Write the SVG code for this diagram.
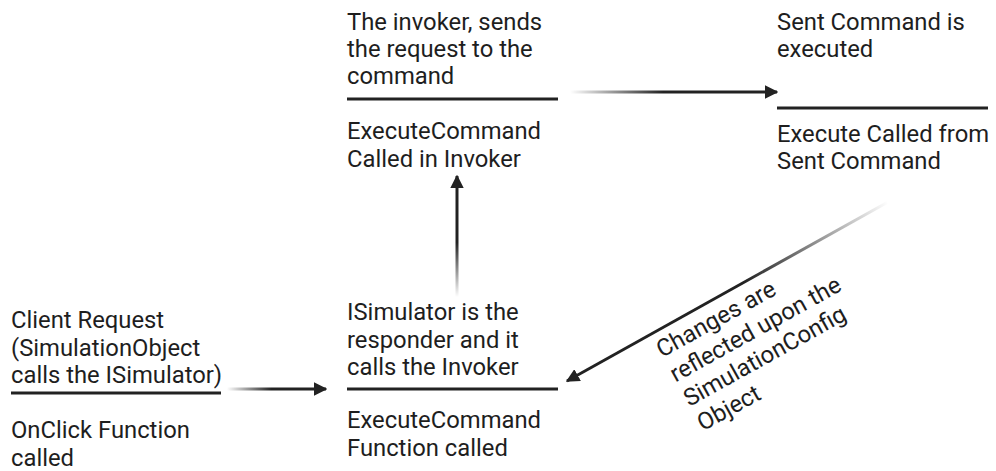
<svg xmlns="http://www.w3.org/2000/svg" width="996" height="471" viewBox="0 0 996 471">
<style>
.t{font-family:Roboto,"Liberation Sans",sans-serif;font-size:23.8px;fill:#1e1e1e}
.sep{stroke:#222;stroke-width:3}
.c{fill:none;stroke-width:3}
</style>
<defs>
<marker id="ah" viewBox="0 0 10 10" refX="9" refY="5" markerWidth="4.5" markerHeight="4.5" orient="auto" markerUnits="strokeWidth">
<path d="M0,0 L10,5 L0,10 z" fill="#222"/>
</marker>
<linearGradient id="g1" gradientUnits="userSpaceOnUse" x1="227" y1="389" x2="326" y2="389"><stop offset="0" stop-color="#222" stop-opacity="0"/><stop offset="0.45" stop-color="#222"/></linearGradient>
<linearGradient id="g2" gradientUnits="userSpaceOnUse" x1="457" y1="297" x2="457" y2="176"><stop offset="0" stop-color="#222" stop-opacity="0"/><stop offset="0.45" stop-color="#222"/></linearGradient>
<linearGradient id="g3" gradientUnits="userSpaceOnUse" x1="570" y1="92" x2="777" y2="92"><stop offset="0" stop-color="#222" stop-opacity="0"/><stop offset="0.45" stop-color="#222"/></linearGradient>
<linearGradient id="g4" gradientUnits="userSpaceOnUse" x1="888" y1="202" x2="567" y2="381"><stop offset="0" stop-color="#222" stop-opacity="0"/><stop offset="0.45" stop-color="#222"/></linearGradient>
</defs>
<g id="node-client">
<text class="t"><tspan x="11" y="328">Client Request</tspan><tspan x="11" y="356">(SimulationObject</tspan><tspan x="11" y="383">calls the ISimulator)</tspan></text>
<line class="sep" x1="11" y1="393" x2="221" y2="393"/>
<text class="t"><tspan x="11" y="438">OnClick Function</tspan><tspan x="11" y="466">called</tspan></text>
</g>
<g id="node-isimulator">
<text class="t"><tspan x="347" y="320">ISimulator is the</tspan><tspan x="347" y="348">responder and it</tspan><tspan x="347" y="375">calls the Invoker</tspan></text>
<line class="sep" x1="347" y1="389" x2="558" y2="389"/>
<text class="t"><tspan x="347" y="428">ExecuteCommand</tspan><tspan x="347" y="456">Function called</tspan></text>
</g>
<g id="node-invoker">
<text class="t"><tspan x="347" y="30">The invoker, sends</tspan><tspan x="347" y="57">the request to the</tspan><tspan x="347" y="84">command</tspan></text>
<line class="sep" x1="347" y1="99" x2="558" y2="99"/>
<text class="t"><tspan x="347" y="139">ExecuteCommand</tspan><tspan x="347" y="167">Called in Invoker</tspan></text>
</g>
<g id="node-command">
<text class="t"><tspan x="777" y="30">Sent Command is</tspan><tspan x="777" y="57">executed</tspan></text>
<line class="sep" x1="777" y1="108" x2="988" y2="108"/>
<text class="t"><tspan x="777" y="142">Execute Called from</tspan><tspan x="777" y="169">Sent Command</tspan></text>
</g>
<g id="connectors">
<line class="c" x1="227" y1="389" x2="326" y2="389" stroke="url(#g1)" marker-end="url(#ah)"/>
<line class="c" x1="457" y1="297" x2="457" y2="176" stroke="url(#g2)" marker-end="url(#ah)"/>
<line class="c" x1="570" y1="92" x2="777" y2="92" stroke="url(#g3)" marker-end="url(#ah)"/>
<line class="c" x1="888" y1="202" x2="567" y2="381" stroke="url(#g4)" marker-end="url(#ah)"/>
<text class="t" transform="translate(662,358) rotate(-29)"><tspan x="0" y="0">Changes are</tspan><tspan x="0" y="28">reflected upon the</tspan><tspan x="0" y="56">SimulationConfig</tspan><tspan x="0" y="84">Object</tspan></text>
</g>
</svg>
